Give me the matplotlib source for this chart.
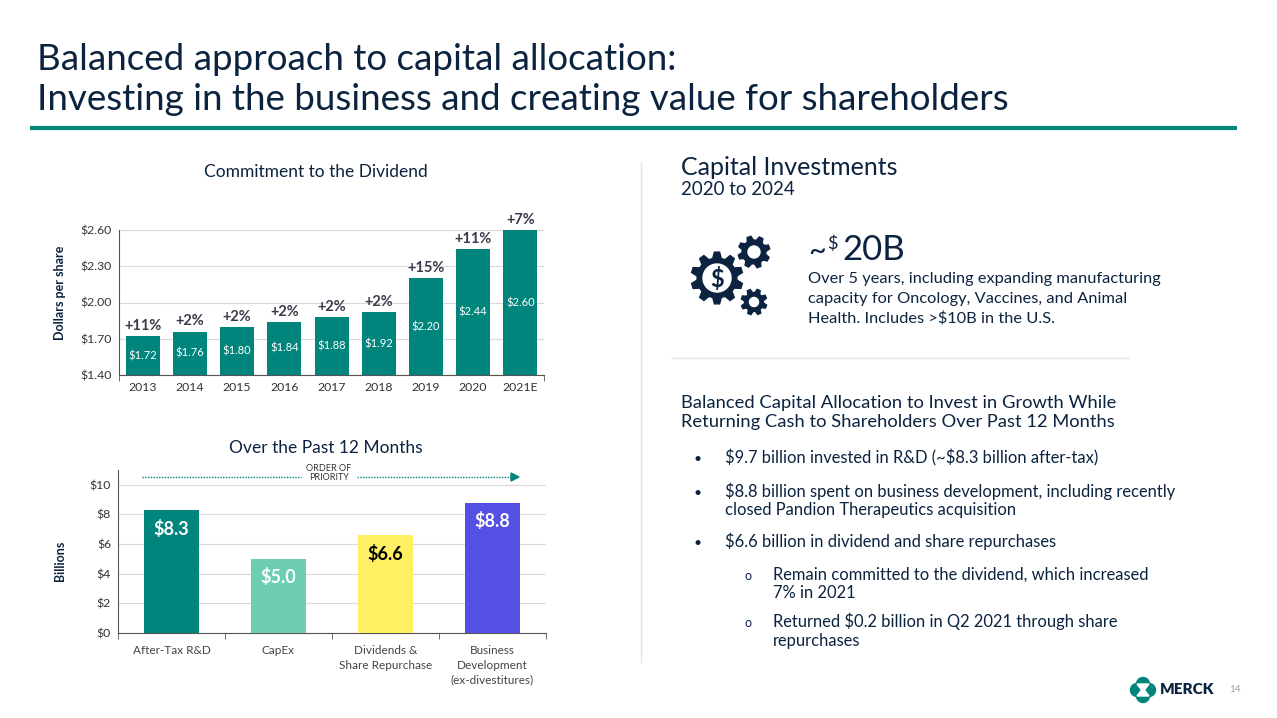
import numpy as np
import matplotlib
matplotlib.use("Agg")
import matplotlib.pyplot as plt
from matplotlib.patches import Polygon, Circle

plt.rcParams["font.family"] = ["Lato", "DejaVu Sans"]
plt.rcParams["text.parse_math"] = False

# data
years = ["2013", "2014", "2015", "2016", "2017", "2018", "2019", "2020", "2021E"]
dividends = [1.72, 1.76, 1.80, 1.84, 1.88, 1.92, 2.20, 2.44, 2.60]
div_growth = ["+11%", "+2%", "+2%", "+2%", "+2%", "+2%", "+15%", "+11%", "+7%"]

uses = ["After-Tax R&D", "CapEx", "Dividends &\nShare Repurchase",
        "Business\nDevelopment\n(ex-divestitures)"]
use_values = [8.3, 5.0, 6.6, 8.8]
use_colors = ["#00857C", "#6ECEB2", "#FFF063", "#5450E4"]
use_text_colors = ["white", "white", "black", "white"]

NAVY = "#0C2340"
TEAL = "#00857C"
GRID = "#D9D9D9"
DARK = "#333333"

W, H = 1277, 718
fig = plt.figure(figsize=(W / 100, H / 100), dpi=100)


def box(x0, y0, x1, y1):
    # pixel box (top-left origin) -> figure fraction rect
    return [x0 / W, 1 - y1 / H, (x1 - x0) / W, (y1 - y0) / H]


# background layer in pixel coordinates
bg = fig.add_axes([0, 0, 1, 1])
bg.set_xlim(0, W)
bg.set_ylim(H, 0)
bg.axis("off")

bg.text(37, 70, "Balanced approach to capital allocation:", fontsize=26.5,
        color=NAVY)
bg.text(37, 110, "Investing in the business and creating value for shareholders",
        fontsize=26.5, color=NAVY)
bg.plot([30, 1237], [128, 128], color=TEAL, lw=3, solid_capstyle="butt")

# separators
bg.plot([641, 641], [163, 662], color="#E3E3E3", lw=1)
bg.plot([672, 1128], [358, 358], color="#E3E3E3", lw=1)

# ---------- top chart: dividend ----------
bg.text(316, 177, "Commitment to the Dividend", fontsize=12.5, color=NAVY,
        ha="center")
ax1 = fig.add_axes(box(119, 230, 544, 375))
ax1.set_facecolor("none")
x1 = np.arange(len(years))
ax1.bar(x1, [v - 1.40 for v in dividends], bottom=1.40, width=0.72,
        color=TEAL, zorder=3)
for i, v in enumerate(dividends):
    ax1.text(i, (v + 1.40) / 2, f"${v:.2f}", ha="center", va="center",
             color="white", fontsize=8, zorder=4)
    ax1.text(i, v + 0.025, div_growth[i], ha="center", va="bottom",
             color="#3A3A4A", fontsize=10.5, fontweight="bold")
ax1.set_ylim(1.40, 2.60)
ax1.set_xlim(-0.5, len(years) - 0.5)
ax1.set_yticks([1.40, 1.70, 2.00, 2.30, 2.60])
ax1.set_yticklabels([f"${t:.2f}" for t in [1.40, 1.70, 2.00, 2.30, 2.60]])
ax1.set_xticks(x1)
ax1.set_xticklabels(years)
ax1.set_xticks([-0.5, len(years) - 0.5], minor=True)
ax1.tick_params(axis="both", which="major", length=0, labelsize=8.8,
                labelcolor=DARK, pad=5)
ax1.tick_params(axis="x", which="minor", length=4, color="#555555")
ax1.grid(axis="y", color=GRID, lw=0.8, zorder=0)
for s in ["top", "right"]:
    ax1.spines[s].set_visible(False)
for s in ["left", "bottom"]:
    ax1.spines[s].set_color("#555555")
    ax1.spines[s].set_linewidth(0.8)
ax1.set_ylabel("Dollars per share", fontsize=9, fontweight="bold", color=NAVY)
ax1.yaxis.set_label_coords(-0.125, 0.57)

# ---------- bottom chart: past 12 months ----------
bg.text(326, 453, "Over the Past 12 Months", fontsize=12.5, color=NAVY,
        ha="center")
ax2 = fig.add_axes(box(118, 470, 546, 633))
ax2.set_facecolor("none")
x2 = np.arange(len(uses))
ax2.bar(x2, use_values, width=0.52, color=use_colors, zorder=3)
for i, v in enumerate(use_values):
    ax2.text(i, v - 1.25, f"${v:.1f}", ha="center", va="center",
             color=use_text_colors[i], fontsize=13, fontweight="bold", zorder=4)
ax2.set_ylim(0, 11)
ax2.set_xlim(-0.5, len(uses) - 0.5)
ax2.set_yticks([0, 2, 4, 6, 8, 10])
ax2.set_yticklabels([f"${t}" for t in [0, 2, 4, 6, 8, 10]])
ax2.set_xticks(x2)
ax2.set_xticklabels(uses, linespacing=1.4)
ax2.set_xticks(np.arange(-0.5, len(uses)), minor=True)
ax2.tick_params(axis="both", which="major", length=0, labelsize=8.8,
                labelcolor=DARK, pad=5)
ax2.tick_params(axis="x", which="major", labelsize=8.5, labelcolor="#444444",
                pad=9)
ax2.tick_params(axis="x", which="minor", length=4, color="#555555")
ax2.grid(axis="y", color=GRID, lw=0.8, zorder=0)
for s in ["top", "right"]:
    ax2.spines[s].set_visible(False)
for s in ["left", "bottom"]:
    ax2.spines[s].set_color("#555555")
    ax2.spines[s].set_linewidth(0.8)
ax2.set_ylabel("Billions", fontsize=9, fontweight="bold", color=NAVY)
ax2.yaxis.set_label_coords(-0.121, 0.44)

# order of priority arrow
bg.plot([142, 301], [477, 477], color=TEAL, lw=1, ls=(0, (1, 1)))
bg.plot([357, 512], [477, 477], color=TEAL, lw=1, ls=(0, (1, 1)))
bg.add_patch(Polygon([[511, 473], [519, 477], [511, 481]], closed=True,
                     color=TEAL))
bg.text(329, 473, "ORDER OF\nPRIORITY", fontsize=6.5, color=DARK,
        ha="center", va="center", linespacing=1.0)

# ---------- right panel ----------
bg.text(681, 175, "Capital Investments", fontsize=18, color=NAVY)
bg.text(681, 195, "2020 to 2024", fontsize=13.5, color=NAVY)


def gear(cx, cy, r_out, r_in, n, phase=0.0):
    pts = []
    step = 2 * np.pi / n
    for k in range(n):
        a = phase + k * step
        for frac, r in [(0.0, r_in), (0.18, r_out), (0.50, r_out), (0.68, r_in)]:
            ang = a + frac * step
            pts.append([cx + r * np.cos(ang), cy + r * np.sin(ang)])
    return Polygon(pts, closed=True, color=NAVY)


bg.add_patch(gear(717, 278, 26, 20, 10, 0.1))
bg.add_patch(Circle((717, 278), 14, color="white"))
bg.text(717, 279, "$", fontsize=17, fontweight="bold", color=NAVY,
        ha="center", va="center")
bg.add_patch(gear(754, 252, 16, 12, 8, 0.2))
bg.add_patch(Circle((754, 252), 6, color="white"))
bg.add_patch(gear(754, 302, 13, 9.5, 8, 0.1))
bg.add_patch(Circle((754, 302), 4.5, color="white"))

bg.text(808, 260, "~", fontsize=22, color=NAVY)
bg.text(827, 249, "$", fontsize=13, color=NAVY)
bg.text(842, 260, "20B", fontsize=25, color=NAVY)
desc = ["Over 5 years, including expanding manufacturing",
        "capacity for Oncology, Vaccines, and Animal",
        "Health. Includes >$10B in the U.S."]
for line, yb in zip(desc, [283, 303, 322]):
    bg.text(808, yb, line, fontsize=11.8, color=NAVY)

bg.text(681, 408, "Balanced Capital Allocation to Invest in Growth While",
        fontsize=13.2, color=NAVY)
bg.text(681, 427, "Returning Cash to Shareholders Over Past 12 Months",
        fontsize=13.2, color=NAVY)

bullets = [
    (["$9.7 billion invested in R&D (~$8.3 billion after-tax)"], [463]),
    (["$8.8 billion spent on business development, including recently",
      "closed Pandion Therapeutics acquisition"], [497, 515]),
    (["$6.6 billion in dividend and share repurchases"], [547]),
]
for lines, ys in bullets:
    bg.text(698, ys[0], "•", fontsize=10, color=NAVY, ha="center")
    for line, yb in zip(lines, ys):
        bg.text(725, yb, line, fontsize=11.9, color=NAVY)

subs = [
    (["Remain committed to the dividend, which increased", "7% in 2021"],
     [580, 598]),
    (["Returned $0.2 billion in Q2 2021 through share", "repurchases"],
     [627, 646]),
]
for lines, ys in subs:
    bg.text(748, ys[0], "o", fontsize=9, color=NAVY, ha="center")
    for line, yb in zip(lines, ys):
        bg.text(773, yb, line, fontsize=11.9, color=NAVY)

# logo
for dx, dy in [(0, -6), (0, 6), (-6, 0), (6, 0)]:
    bg.add_patch(Circle((1143 + dx, 690 + dy), 6.5, color=TEAL))
bg.add_patch(Polygon([[1137, 684], [1149, 684], [1144.5, 690], [1149, 696],
                      [1137, 696], [1141.5, 690]], closed=True, color="white"))
bg.text(1160, 690, "MERCK", fontsize=11, fontweight="heavy", color=NAVY,
        va="center")
bg.text(1229, 690, "14", fontsize=7, color="#999999", va="center")

fig.savefig("out.png", dpi=100)
